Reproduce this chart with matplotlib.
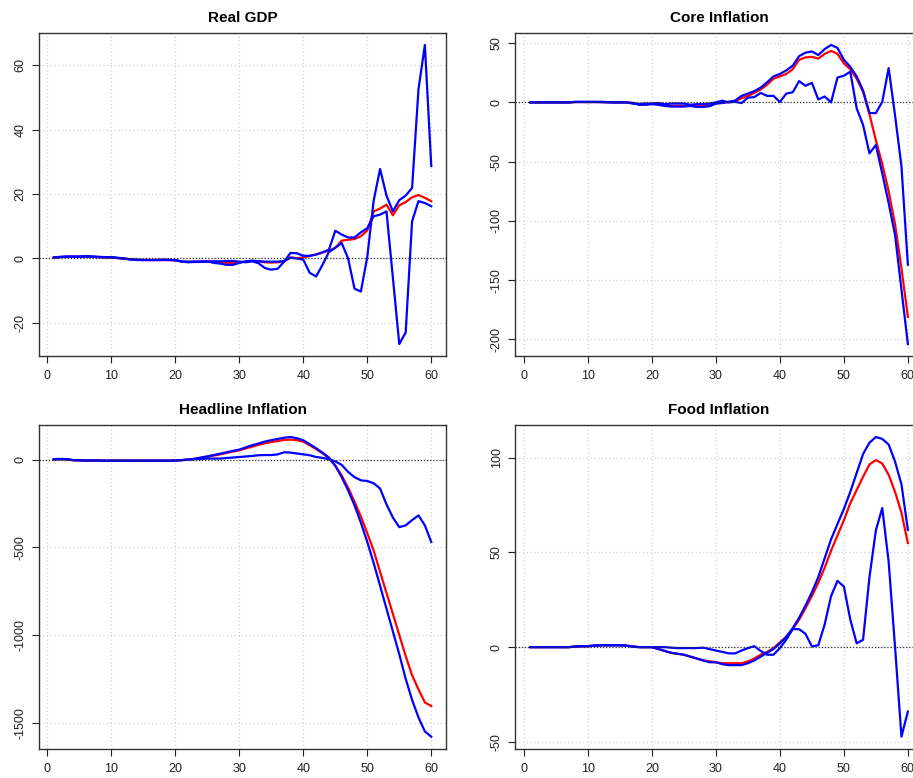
"""
Impulse responses: median (red) with two bands (blue), 60 periods
"""
import numpy as np
import matplotlib
matplotlib.use("Agg")
import matplotlib.pyplot as plt

plt.rcParams["font.family"] = ["Liberation Sans", "DejaVu Sans"]
plt.rcParams["axes.unicode_minus"] = False

periods = np.arange(1, 61)

# Real GDP
gdp_mid = [0.3, 0.4, 0.5, 0.5, 0.5, 0.6, 0.5, 0.4, 0.3, 0.3,
           0.1, -0.1, -0.3, -0.4, -0.5, -0.5, -0.5, -0.5, -0.5, -0.6,
           -1.0, -1.1, -1.0, -1.0, -1.0, -1.1, -1.2, -1.4, -1.4, -1.2,
           -1.0, -0.8, -0.9, -1.2, -1.3, -1.2, -0.9, 0.3, 0.1, 0.3,
           0.8, 1.2, 1.8, 2.4, 3.3, 5.5, 5.8, 6.0, 6.9, 8.7,
           14.6, 15.5, 16.7, 13.4, 16.5, 17.5, 19.0, 19.7, 18.8, 17.8]
gdp_band1 = [0.3, 0.5, 0.6, 0.6, 0.6, 0.7, 0.6, 0.5, 0.4, 0.4,
             0.2, 0.0, -0.3, -0.5, -0.5, -0.5, -0.5, -0.4, -0.4, -0.5,
             -1.0, -1.2, -1.1, -1.0, -0.9, -1.4, -1.6, -2.0, -2.0, -1.4,
             -0.9, -0.7, -0.9, -1.0, -1.0, -1.0, -0.8, 0.2, 0.0, -0.4,
             -4.5, -5.6, -2.0, 2.0, 3.3, 4.8, 0.0, -9.4, -10.3, 0.5,
             18.0, 27.8, 19.5, 14.6, 18.1, 19.5, 21.9, 52.5, 66.3, 28.7]
gdp_band2 = [0.2, 0.4, 0.5, 0.5, 0.5, 0.6, 0.5, 0.4, 0.3, 0.3,
             0.1, -0.1, -0.3, -0.4, -0.5, -0.5, -0.5, -0.5, -0.5, -0.6,
             -0.9, -1.0, -1.0, -1.0, -1.0, -0.9, -0.9, -0.8, -0.8, -1.0,
             -1.2, -0.9, -1.5, -3.0, -3.5, -3.2, -1.0, 1.7, 1.6, 0.8,
             0.8, 1.2, 1.9, 2.7, 8.6, 7.4, 6.5, 6.5, 8.1, 9.4,
             13.1, 13.6, 14.6, -6.0, -26.6, -23.0, 11.5, 17.8, 17.2, 16.2]

# Core inflation
core_mid = [0, 0, 0, 0, 0, 0, 0, 0.3, 0.3, 0.3,
            0.3, 0.3, 0.2, 0, 0, 0, -0.5, -1.5, -1.5, -1.2,
            -1.5, -2.5, -3, -3, -3, -2.7, -3.2, -3.2, -2.6, -0.8,
            -0.2, 0.3, 1, 3.5, 5.5, 8, 11, 15, 20, 22,
            24, 28, 36, 38, 38.5, 37, 41, 43.5, 41, 33,
            28, 20, 9, -10, -32, -52, -75, -103, -140, -181]
core_band1 = [0, 0, 0, 0, 0, 0, 0, 0.5, 0.5, 0.5,
              0.5, 0.5, 0.3, 0, 0, 0, -0.5, -2, -2, -1.5,
              -2, -3, -3.5, -3.5, -3.5, -3, -3.8, -3.8, -3.2, -1,
              -0.5, 0.5, 1.5, 5.5, 7.5, 9.5, 12.5, 17, 22, 24,
              27, 31, 39, 42, 43, 40, 45, 48.5, 46, 36,
              30, 22, 10, -9, -9, 0.5, 29, -11, -54, -137]
core_band2 = [0, 0, 0, 0, 0, 0, 0, 0.3, 0.3, 0.3,
              0.3, 0.2, 0, 0, 0, 0, -1, -1.5, -1, -1,
              -0.5, -1.5, -1, -1, -1, -2, -1.5, -1.5, -1, 0,
              1.5, 0, 0.5, -0.6, 4, 4.5, 8, 5.5, 5.5, 0.3,
              7.5, 8.5, 18, 14, 16.5, 2.5, 5, 0, 21, 22.5,
              26, -5, -19, -43, -36, -60, -85, -112, -158, -204]

# Headline inflation
head_mid = [2, 2, 1, -3, -4, -5, -5, -5, -6, -6,
            -6, -6, -6, -6, -6, -6, -6, -6, -6, -5,
            -2, 0, 4, 10, 16, 23, 30, 38, 46, 53,
            64, 74, 84, 93, 100, 106, 112, 114, 111, 102,
            82, 60, 36, 8, -35, -90, -160, -240, -325, -420,
            -520, -640, -760, -880, -1000, -1120, -1230, -1310, -1385, -1405]
head_band1 = [2, 3, 2, -3, -4, -5, -5, -5, -6, -6,
              -6, -6, -6, -6, -6, -6, -6, -6, -6, -5,
              -3, 0, 5, 12, 19, 26, 34, 42, 50, 57,
              70, 82, 92, 103, 111, 118, 125, 129, 122, 110,
              88, 65, 40, 12, -35, -100, -175, -260, -360, -470,
              -590, -720, -850, -980, -1110, -1250, -1370, -1470, -1550, -1580]
head_band2 = [3, 4, 3, -3, -4, -5, -5, -5, -6, -6,
              -6, -6, -6, -6, -6, -6, -6, -6, -6, -5,
              -3, 0, 2, 4, 6, 6, 6, 9, 12, 15,
              18, 21, 25, 26, 26, 30, 42, 40, 35, 30,
              25, 15, 10, 3, -10, -30, -70, -100, -118, -122,
              -135, -165, -255, -330, -385, -375, -345, -318, -375, -470]

# Food inflation
food_mid = [0, 0, 0, 0, 0, 0, 0, 0.3, 0.5, 0.5,
            0.8, 1, 1, 1, 1, 0.8, 0.3, 0, 0, 0,
            -1, -2, -3, -3.5, -4, -5, -6, -7, -7.5, -8,
            -8.5, -8.5, -8.5, -8.5, -7.5, -6, -4, -2.5, -0.5, 2.5,
            5.5, 9.5, 14.5, 20.5, 27, 34, 42, 51, 59, 67,
            76, 83, 90, 96.5, 98.8, 97, 91, 82, 71, 55]
food_band1 = [0, 0, 0, 0, 0, 0, 0, 0.3, 0.5, 0.5,
              0.8, 1, 1, 1, 1, 0.8, 0.3, 0, 0, 0,
              -1, -2, -3, -3.5, -4, -5, -6, -7, -8, -8,
              -9, -9.5, -9.5, -9.5, -8.5, -7, -5, -3, -1, 2,
              5.5, 10, 15.5, 22, 29, 37, 47, 57, 65, 73,
              82, 92, 102, 108, 111, 110, 107, 98, 86, 62]
food_band2 = [0, 0, 0, 0, 0, 0, 0, 0.3, 0.5, 0.5,
              0.8, 1, 1, 1, 1, 0.8, 0.3, 0, 0, 0,
              0, 0, -0.3, -0.5, -0.5, -0.5, -0.5, -0.3, -1, -1.8,
              -2.5, -3.3, -3.3, -1.8, -0.5, 0.5, -2, -4, -4, -0.5,
              4, 9.5, 9.5, 7, 0.4, 1, 12, 27, 35, 32,
              14.6, 2, 3.9, 37, 61.7, 73.5, 45, 0, -47.3, -34]

titles = ["Real GDP", "Core Inflation", "Headline Inflation", "Food Inflation"]
mids = [gdp_mid, core_mid, head_mid, food_mid]
bands1 = [gdp_band1, core_band1, head_band1, food_band1]
bands2 = [gdp_band2, core_band2, head_band2, food_band2]
yticks = [[-20, 0, 20, 40, 60],
          [-200, -150, -100, -50, 0, 50],
          [-1500, -1000, -500, 0],
          [-50, 0, 50, 100]]

fig = plt.figure(figsize=(9.13, 7.78), dpi=100)

# panel boxes in figure fractions (right column runs off the edge like the original)
positions = [
    [0.0424, 0.5424, 0.4465, 0.4152],
    [0.5644, 0.5424, 0.4465, 0.4152],
    [0.0424, 0.0377, 0.4465, 0.4160],
    [0.5644, 0.0377, 0.4465, 0.4160],
]

for i in range(4):
    ax = fig.add_axes(positions[i])
    mid = np.array(mids[i], dtype=float)
    b1 = np.array(bands1[i], dtype=float)
    b2 = np.array(bands2[i], dtype=float)

    # R-style 4% padding
    lo = min(mid.min(), b1.min(), b2.min())
    hi = max(mid.max(), b1.max(), b2.max())
    pad = (hi - lo) * 0.04
    ax.set_ylim(lo - pad, hi + pad)
    ax.set_xlim(1 - 59 * 0.04, 60 + 59 * 0.04)

    ax.set_xticks(np.arange(0, 61, 10))
    ax.set_yticks(yticks[i])
    ax.grid(True, color="#d3d3d3", linestyle=(0, (1, 2)), linewidth=0.9)
    ax.set_axisbelow(True)

    ax.plot(periods, mid, color="red", lw=1.6, zorder=3)
    ax.plot(periods, b1, color="blue", lw=1.6, zorder=4)
    ax.plot(periods, b2, color="blue", lw=1.6, zorder=4)
    ax.axhline(0, color="#333333", linestyle=(0, (1, 1.5)), lw=0.9, zorder=5)

    ax.set_title(titles[i], fontsize=11, fontweight="bold", pad=8)
    ax.tick_params(axis="both", direction="out", length=5, width=0.8,
                   labelsize=9, colors="#222222", top=False, right=False)
    ax.tick_params(axis="x", pad=5)
    ax.tick_params(axis="y", labelrotation=90, pad=4)
    for lab in ax.get_yticklabels():
        lab.set_va("center")
    for sp in ax.spines.values():
        sp.set_color("#333333")
        sp.set_linewidth(1.0)

fig.savefig("out.png", dpi=100)
